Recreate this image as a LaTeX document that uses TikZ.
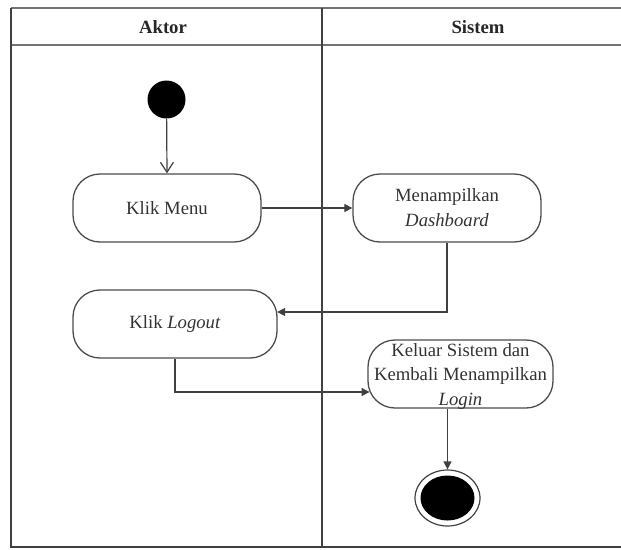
\documentclass[tikz,border=0pt]{standalone}
\usepackage{fontspec}
\setmainfont{Liberation Serif}
\usetikzlibrary{arrows.meta,shapes.geometric,calc}

\begin{document}
\begin{tikzpicture}[x=1pt,y=-1pt,
  lane/.style={line width=1.3pt, draw=black!75},
  header/.style={line width=2pt, draw=black!55},
  actbox/.style={draw=black!70, line width=1.3pt, rounded corners=27pt,
    minimum height=68pt, inner sep=0pt},
  lbl/.style={font=\fontsize{18.7}{24.5}\selectfont, text=black!80,
    align=center, inner sep=0pt},
  hdr/.style={font=\fontsize{18.7}{22}\selectfont\bfseries, text=black!85,
    inner sep=0pt},
  flow/.style={draw=black!75, line width=1.2pt,
    -{Triangle[length=8pt,width=8pt]}},
  openflow/.style={draw=black!75, line width=1.2pt,
    -{Straight Barb[length=10pt,width=13pt]}},
]
\useasboundingbox (0,0) rectangle (621,549);

% swimlane frame
\draw[header] (11,8) -- (621,8);
\draw[header] (11,45) -- (621,45);
\draw[lane] (11,8) -- (11,547) -- (621,547);
\draw[lane] (322,8) -- (322,547);

\node[hdr] (hA) at (163,27) {Aktor};
\node[hdr] (hS) at (478,27) {Sistem};

% initial state
\node[circle, fill=black, minimum size=38pt, inner sep=0pt] (s) at (166.5,99.5) {};

% activities
\node[actbox, minimum width=188pt] (m) at (167,208) {};
\node[lbl] (mt) at (m.center) {Klik Menu};

\node[actbox, minimum width=188pt] (d) at (447,208) {};
\node[lbl] (dt) at (447,207.5) {Menampilkan\\\textit{Dashboard}};

\node[actbox, minimum width=204pt] (l) at (175,324) {};
\node[lbl] (lt) at (l.center) {Klik \textit{Logout}};

\node[actbox, minimum width=185pt] (k) at (460.5,374) {};
\node[lbl] (kt) at (460.5,376) {Keluar Sistem dan\\Kembali Menampilkan\\\textit{Login}};

% final state
\node[ellipse, draw=black!75, line width=1.2pt, minimum width=65pt,
  minimum height=56pt, inner sep=0pt] (e) at (447.5,498) {};
\node[ellipse, fill=black, minimum width=54pt, minimum height=45pt,
  inner sep=0pt] (ein) at (e.center) {};

% control flow
\draw[openflow] (s) -- (m.north);
\draw[flow] (m.east) -- (d.west);
\draw[flow, shorten >=-0.5pt] (d.south) |- ($(l.east)+(0,-12)$);
\draw[flow, shorten >=-2.2pt] (l.south) |- ($(k.west)+(0,18)$);
\draw[flow] (k.south -| e.north) -- (e.north);
\end{tikzpicture}
\end{document}
